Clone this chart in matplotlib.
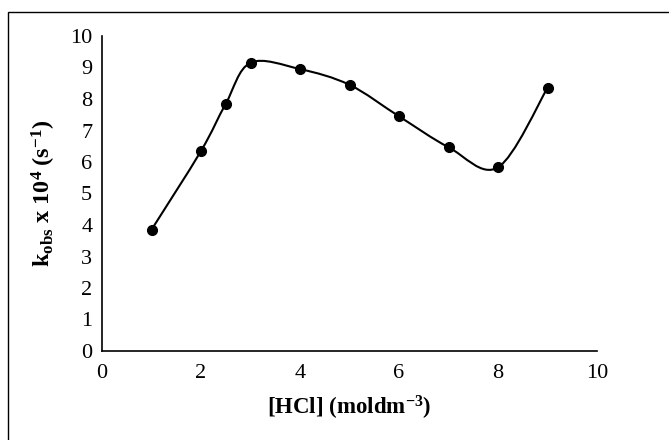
import matplotlib
matplotlib.use("Agg")
import matplotlib.pyplot as plt
from matplotlib.path import Path
from matplotlib.patches import PathPatch, Rectangle
import numpy as np

plt.rcParams['font.family'] = ['Liberation Serif', 'DejaVu Serif']
plt.rcParams['mathtext.fontset'] = 'custom'
plt.rcParams['mathtext.rm'] = 'Liberation Serif'
plt.rcParams['mathtext.bf'] = 'Liberation Serif:bold'
plt.rcParams['mathtext.it'] = 'Liberation Serif:italic'

# data
hcl = [1, 2, 2.5, 3, 4, 5, 6, 7, 8, 9]
kobs = [3.85, 6.35, 7.85, 9.15, 8.95, 8.45, 7.45, 6.47, 5.83, 8.35]

x_ticks = [0, 2, 4, 6, 8, 10]
y_ticks = list(range(0, 11))


def smooth_path(xs, ys):
    # Excel-like smoothed line: cubic Bezier segments through the points
    pts = np.column_stack([xs, ys])
    n = len(pts)
    verts = [pts[0]]
    codes = [Path.MOVETO]
    for i in range(n - 1):
        p0 = pts[i - 1] if i > 0 else pts[i]
        p1 = pts[i]
        p2 = pts[i + 1]
        p3 = pts[i + 2] if i + 2 < n else pts[i + 1]
        c1 = p1 + (p2 - p0) / 6.0
        c2 = p2 - (p3 - p1) / 6.0
        verts += [c1, c2, p2]
        codes += [Path.CURVE4] * 3
    return Path(verts, codes)


fig = plt.figure(figsize=(6.69, 4.40), dpi=100)
ax = fig.add_axes([102 / 669, 1 - 351 / 440, 495 / 669, 315 / 440])

ax.add_patch(PathPatch(smooth_path(hcl, kobs), facecolor='none',
                       edgecolor='black', lw=1.5, zorder=2))
ax.plot(hcl, kobs, linestyle='none', marker='o', markersize=7,
        color='black', zorder=3)

ax.set_xlim(0, 10)
ax.set_ylim(0, 10)
ax.set_xticks(x_ticks)
ax.set_yticks(y_ticks)
ax.tick_params(length=0, labelsize=16)
ax.tick_params(axis='x', pad=9)
ax.tick_params(axis='y', pad=7)
for s in ['top', 'right']:
    ax.spines[s].set_visible(False)
for s in ['left', 'bottom']:
    ax.spines[s].set_linewidth(1.2)

ax.set_xlabel(r'[HCl] (moldm$^{\mathbf{-3}}$)', fontsize=16.5,
              fontweight='bold', labelpad=8)
ax.set_ylabel(r'$\mathbf{k_{obs}\ x\ 10^{4}\ (s^{-1})}$', fontsize=17.5,
              labelpad=9)

# frame around the chart area
fig.patches.append(Rectangle((8 / 669, -0.1), 1.2, 1.1 - 12 / 440,
                             transform=fig.transFigure, fill=False,
                             edgecolor='black', lw=1.0))

fig.savefig('out.png', dpi=100)
